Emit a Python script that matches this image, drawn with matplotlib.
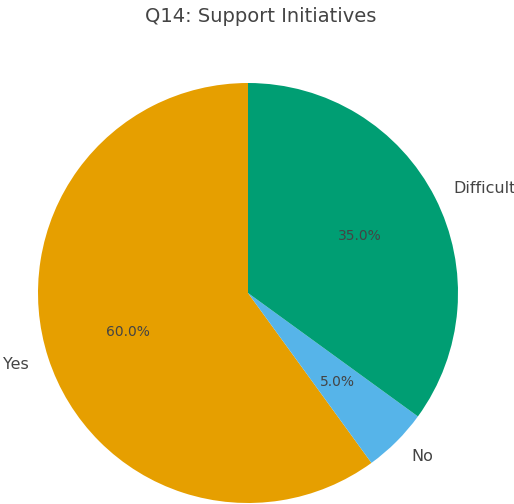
import matplotlib.pyplot as plt

# survey answers for Q14
labels = ['Yes', 'No', 'Difficult']
shares = [60.0, 5.0, 35.0]
colors = ['#E69F00', '#56B4E9', '#009E73']

fig = plt.figure(figsize=(5.14, 5.04), dpi=100)
ax = fig.add_axes([38/514, 83/504 - 0.0, 420/514, 420/504])
ax.set_position([38/514, (504 - 503)/504, 420/514, 420/504])

wedges, texts, autotexts = ax.pie(shares, labels=labels, colors=colors,
                                  autopct='%1.1f%%', startangle=90,
                                  textprops={'color': '#444444'})
for t in texts:
    t.set_fontsize(11.5)
for t in autotexts:
    t.set_fontsize(10)
ax.set_xlim(-1, 1)
ax.set_ylim(-1, 1)
ax.set_aspect('equal')

fig.text(261/514, 1 - 17/504, 'Q14: Support Initiatives', ha='center',
         va='center', fontsize=14, color='#444444')

fig.savefig('out.png', dpi=100)
